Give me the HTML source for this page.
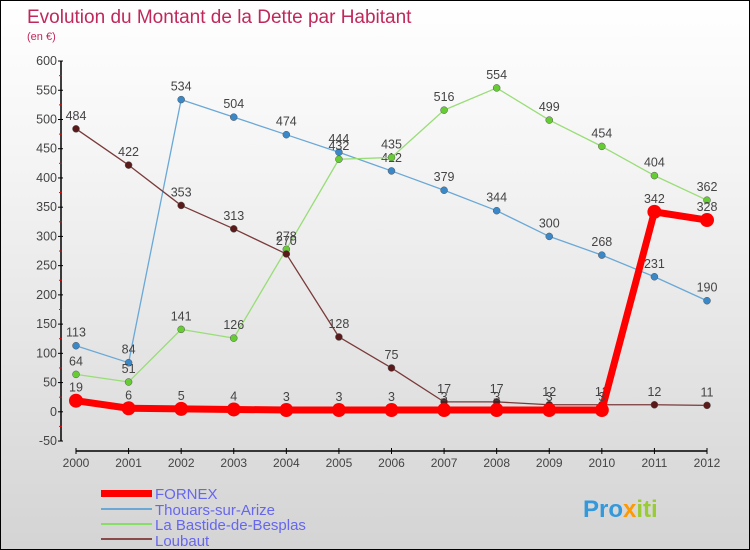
<!DOCTYPE html>
<html><head><meta charset="utf-8"><style>
body{margin:0}
#c{position:relative;width:748px;height:548px;border:1px solid #000;background:linear-gradient(#fff 0%,#f4f4f4 30%,#d4d4d4 100%);font-family:"Liberation Sans","DejaVu Sans",sans-serif;overflow:hidden}
svg text{font-family:"Liberation Sans","DejaVu Sans",sans-serif}
</style></head><body>
<div id="c">
<svg id="s" width="748" height="548" xmlns="http://www.w3.org/2000/svg">
<text x="26" y="22" font-size="19" fill="#c0285c">Evolution du Montant de la Dette par Habitant</text>
<text x="26" y="39" font-size="11" fill="#c0285c">(en €)</text>
<g id="ax"></g><g id="ser"></g>
<g>
<rect x="100" y="489" width="51" height="7" fill="#f00"/>
<text x="154" y="498" font-size="15" fill="#6666ee">FORNEX</text>
<rect x="100" y="507" width="51" height="2" fill="#6aa8d6"/>
<text x="154" y="514" font-size="15" fill="#6666ee">Thouars-sur-Arize</text>
<rect x="100" y="522" width="51" height="2" fill="#88dd66"/>
<text x="154" y="529" font-size="15" fill="#6666ee">La Bastide-de-Besplas</text>
<rect x="100" y="537" width="51" height="2" fill="#8a4a4a"/>
<text x="154" y="545" font-size="15" fill="#6666ee">Loubaut</text>
</g>
<text x="582" y="516" font-size="24" font-weight="bold" fill="#3399dd">Pro<tspan fill="#ff9900">x</tspan><tspan fill="#99cc33">iti</tspan></text>
</svg>
</div>
<script>
const years=[2000,2001,2002,2003,2004,2005,2006,2007,2008,2009,2010,2011,2012];
const yTicks=[-50,0,50,100,150,200,250,300,350,400,450,500,550,600];
const fornex=[19,6,5,4,3,3,3,3,3,3,3,342,328];
const thouars=[113,84,534,504,474,444,412,379,344,300,268,231,190];
const bastide=[64,51,141,126,278,432,435,516,554,499,454,404,362];
const loubaut=[484,422,353,313,270,128,75,17,17,12,12,12,11];
const NS="http://www.w3.org/2000/svg";
function X(i){return 75+i*(706-75)/(years.length-1);}
function Y(v){return 410.8-v*380/650;}
function mk(t,a,p){const e=document.createElementNS(NS,t);for(const k in a)e.setAttribute(k,a[k]);p.appendChild(e);return e;}
const ax=document.getElementById('ax');
let yl=mk('line',{x1:60,y1:Y(600),x2:60,y2:Y(-50),stroke:'#000','stroke-width':1.5},ax);


yTicks.forEach(v=>{
 mk('line',{x1:57,y1:Y(v),x2:62,y2:Y(v),stroke:'#000'},ax);
 if(v<600) mk('line',{x1:58,y1:Y(v+25),x2:61,y2:Y(v+25),stroke:'#f00'},ax);
 const t=mk('text',{x:56,y:Y(v)+4,'font-size':12.5,'text-anchor':'end',fill:'#444'},ax);t.textContent=v;
 
 
});
let xl=mk('line',{x1:75,y1:450,x2:706,y2:450,stroke:'#000','stroke-width':1.5},ax);


years.forEach((y,i)=>{
 mk('line',{x1:X(i),y1:447,x2:X(i),y2:453,stroke:'#000'},ax);
 const t=mk('text',{x:X(i),y:466,'font-size':12,'text-anchor':'middle',fill:'#444'},ax);t.textContent=y;
 
 
});
const ser=document.getElementById('ser');
function draw(data,name,col,dot,w,r){
 const g=mk('g',{},ser);
 
 
 const pl=mk('polyline',{points:data.map((v,i)=>X(i)+','+Y(v)).join(' '),fill:'none',stroke:col,'stroke-width':w,'stroke-linejoin':'round'},g);
 
 
 data.forEach((v,i)=>{
  const c=mk('circle',{cx:X(i),cy:Y(v),r:r,fill:dot,stroke:w>3?'none':'#555','stroke-width':0.5},g);
  
  
  const t=mk('text',{x:X(i),y:Y(v)-9,'font-size':12.5,'text-anchor':'middle',fill:'#444'},g);t.textContent=v;
  
  
 });
}
draw(thouars,'thouars','#6aa8d6','#3a88c8',1.3,3.5);
draw(bastide,'bastide','#99dd77','#66cc33',1.3,3.5);
draw(loubaut,'loubaut','#7a3a3a','#5a1a1a',1.3,3.5);
draw(fornex,'fornex','#f00','#f00',7,7);
</script>
</body></html>
